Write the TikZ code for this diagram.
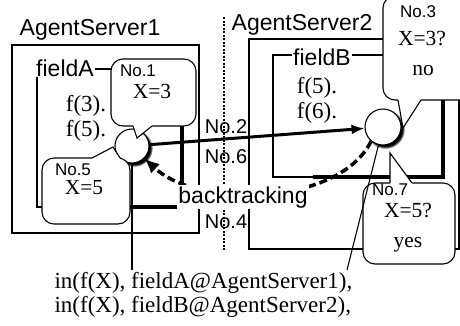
\documentclass[tikz,border=0pt]{standalone}
\usepackage{fontspec}
\setmainfont{Liberation Serif}
\setsansfont{Liberation Sans}
\usetikzlibrary{arrows.meta, calc, shadows}
\newcommand{\pointer}[4]
{
	\fill[white] ($ (#2)+(0,#4) $) -- (#2) -- (#1) -- (#3) -- ($ (#3)+(0,#4) $) -- cycle;
	\draw (#2) -- (#1) -- (#3)
}

\begin{document}
\begin{tikzpicture}[x=1pt, y=-1pt, line width=1.1pt,
every node/.append style={inner sep=1pt},
sanslab/.style={font=\sffamily\fontsize{23}{26}\selectfont, anchor=base},
numlab/.style={font=\sffamily\fontsize{20}{22}\selectfont, anchor=base},
tinylab/.style={font=\sffamily\fontsize{17}{19}\selectfont, anchor=base},
seriflab/.style={font=\fontsize{23}{26}\selectfont, anchor=base},
callserif/.style={font=\fontsize{21.5}{24}\selectfont, anchor=base},
callbox/.style={draw, fill=white, rounded corners=12pt, inner sep=0pt},
agent/.style={circle, draw, fill=white, inner sep=0pt, circular drop shadow={shadow xshift=2pt, shadow yshift=-2pt, opacity=1, fill=black}},
mainarrow/.style={line width=3pt, -{Latex[length=13pt, width=10pt]}},
backtrack/.style={line width=3.5pt, dash pattern=on 8pt off 4pt, -{Latex[length=15pt, width=13pt]}}]

\useasboundingbox (0,0) rectangle (460,325);
\clip (0,0) rectangle (460,325);

\draw (12,45) rectangle (199,233);
\draw (249,39) rectangle (459,249);
\node[sanslab] at (90,35) (AS1){AgentServer1};
\node[sanslab] at (302,30) (AS2){AgentServer2};
\draw[line width=2pt, dash pattern=on 2pt off 1.5pt] (224,17) -- (224,250);

\draw (37,69) rectangle (182,207);
\draw[line width=4pt] (120,207) -| (182,100);
\draw (273,55) rectangle (443,177);
\draw[line width=4pt] (313,177) -| (443,100);
\node[sanslab, fill=white] at (65,76) (FA){fieldA};
\node[sanslab, fill=white] at (322,65) (FB){fieldB};

\node[seriflab] at (86,111) (A3){f(3).};
\node[seriflab] at (86,136) (A5){f(5).};
\node[seriflab] at (317,93) (B5){f(5).};
\node[seriflab] at (317,118) (B6){f(6).};

\node[agent, minimum size=34pt] at (132,146) (L){};
\node[agent, minimum size=36pt] at (383,127) (R){};
\draw[mainarrow] (L) -- (R);

\node[callbox, minimum width=85pt, minimum height=67pt] at (153.5,92.5) (C1){};
\pointer{137,138}{133,126}{152,126}{-3};
\node[callbox, minimum width=95pt, minimum height=104pt] at (430.5,48) (C3){};
\pointer{403,128}{398,100}{421,100}{-3};
\node[callbox, minimum width=88pt, minimum height=66pt] at (86,191) (C5){};
\pointer{113,147}{92,158}{120,158}{3};
\node[callbox, minimum width=92pt, minimum height=81pt] at (409,223.5) (C7){};
\pointer{390,153}{390,183}{412,183}{3};

\node[tinylab] at (138,76) (N1){No.1};
\node[callserif] at (152,98) (X1){X=3};
\node[tinylab] at (418,17) (N3){No.3};
\node[callserif] at (422,45) (X3){X=3?};
\node[callserif] at (423,75) (A3no){no};
\node[tinylab] at (73,175) (N5){No.5};
\node[callserif] at (84,194) (X5){X=5};
\node[tinylab] at (390,195) (N7){No.7};
\node[callserif] at (408,217) (X7){X=5?};
\node[callserif] at (408,247) (A7yes){yes};

\node[numlab] at (226,133) (N2){No.2};
\node[numlab] at (226,163) (N6){No.6};
\node[numlab] at (226,228) (N4){No.4};

\node[seriflab, anchor=base west] at (53,288) (in1){in(f(X), fieldA@AgentServer1),};
\node[seriflab, anchor=base west] at (53,312) (in2){in(f(X), fieldB@AgentServer2),};
\coordinate (inR) at (347,270);
\draw (L) -- (L |- in1.north);
\draw (R) -- (inR);

\draw[backtrack] (R.230) .. controls (340,205) and (200,210) .. (L.-45);
\node[sanslab, fill=white] at (243,203) (BT){backtracking};
\end{tikzpicture}
\end{document}
